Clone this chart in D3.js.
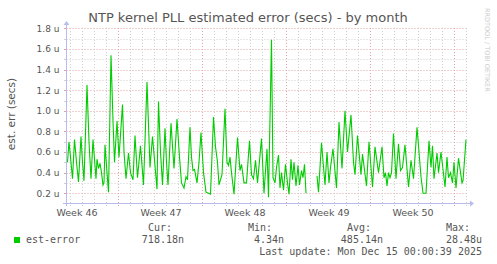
<!DOCTYPE html>
<html>
<head>
<meta charset="utf-8">
<script src="https://cdn.jsdelivr.net/npm/d3@7"></script>
<style>
  body { margin: 0; background: #fff; }
  text { font-family: "DejaVu Sans", sans-serif; }
  .mono { font-family: "DejaVu Sans Mono", monospace; }
</style>
</head>
<body>
<script>
// hours after the start of the graph window, and est. error in microseconds
const hours = [2, 5, 8, 12, 16, 20, 24, 29, 32, 35, 41, 45, 49, 53, 59, 61, 64, 67, 70, 73,
  75, 77, 81, 84, 89, 93, 96, 101, 105, 112, 115, 119, 124, 128, 133, 137, 142, 148, 154, 161,
  167, 172, 181, 184, 188, 192, 197, 200, 203, 209, 215, 221, 226, 230, 235, 239, 242, 247, 250, 253,
  256, 261, 265, 269, 274, 279, 284, 288, 294, 298, 302, 305, 311, 317, 321, 324, 327, 330, 335, 342,
  347, 350, 355, 360, 366, 370, 374, 378, 382, 390, 395, 401, 404, 410, 413, 417, 420, 424, 427, 430,
  434, 438, 442, 445, 449, 452, 455, 459, 463, 466, 470, 473, 476, 479, 488, 501, 504, 510, 517, 521,
  525, 528, 533, 540, 545, 551, 557, 562, 569, 574, 577, 582, 589, 592, 600, 605, 612, 617, 624, 631,
  635, 638, 641, 644, 647, 650, 654, 659, 664, 668, 672, 677, 684, 689, 694, 701, 709, 713, 719, 725,
  729, 732, 735, 741, 744, 749, 757, 761, 764, 768, 772, 775, 779, 784, 791, 793, 799];
const estError = [0.50, 0.70, 0.55, 0.34, 0.72, 0.50, 0.31, 0.75, 0.50, 0.32, 1.25, 0.70, 0.34, 0.72, 0.34, 0.53, 0.44, 0.49, 0.40, 0.28,
  0.30, 0.67, 0.40, 0.21, 1.54, 0.90, 0.50, 0.90, 0.55, 1.06, 0.60, 0.34, 0.59, 0.40, 0.33, 0.76, 0.35, 0.66, 0.28, 1.28,
  0.45, 0.75, 0.24, 1.09, 0.60, 0.28, 0.83, 0.50, 0.28, 0.88, 0.44, 0.92, 0.55, 0.30, 0.25, 0.36, 0.33, 0.84, 0.55, 0.42,
  0.43, 0.30, 0.50, 0.79, 0.40, 0.21, 0.20, 0.19, 0.94, 0.65, 0.50, 0.28, 0.38, 1.02, 0.50, 0.47, 0.55, 0.40, 0.19, 0.74,
  0.42, 0.48, 0.30, 0.30, 0.71, 0.38, 0.34, 0.52, 0.30, 0.73, 0.20, 0.63, 0.16, 1.69, 0.35, 0.30, 0.45, 0.57, 0.25, 0.40,
  0.23, 0.48, 0.30, 0.19, 0.53, 0.33, 0.50, 0.27, 0.47, 0.28, 0.42, 0.35, 0.48, 0.20, null, 0.37, 0.21, 0.69, 0.28, 0.60,
  0.30, 0.45, 0.63, 0.25, 0.89, 0.44, 1.00, 0.60, 0.96, 0.50, 0.38, 0.76, 0.38, 0.58, 0.27, 0.70, 0.26, 0.65, 0.40, 0.65,
  0.35, 0.40, 0.27, 0.40, 0.35, 0.40, 0.78, 0.34, 0.68, 0.42, 0.45, 0.67, 0.26, 0.52, 0.34, 0.84, 0.36, 0.20, 0.20, 0.71,
  0.45, 0.66, 0.34, 0.59, 0.40, 0.60, 0.26, 0.55, 0.35, 0.40, 0.30, 0.50, 0.25, 0.54, 0.30, 0.32, 0.72];
const yTicks = [0.2, 0.4, 0.6, 0.8, 1.0, 1.2, 1.4, 1.6, 1.8];
const legendHeads = ["Cur:", "Min:", "Avg:", "Max:"];
const legendVals = ["718.18n", "4.34n", "485.14n", "28.48u"];

const W = 497, H = 264;
const end = new Date(Date.UTC(2025, 11, 15, 0, 0, 39));
const start = new Date(+end - 800 * 3600e3);
const data = hours.map((h, i) => ({ t: new Date(+start + h * 3600e3), v: estError[i] }));

const svg = d3.select("body").append("svg").attr("width", W).attr("height", H);

const x = d3.scaleUtc().domain([start, end]).range([66.5, 466.5]);
const y = d3.scaleLinear().domain([0.1, 1.8]).range([203.5, 28.4]);

const minorCol = "#cfcfcf", majorCol = "#e3a0a0";

// grid
const minorY = d3.range(2, 19).map((d) => d / 10);
svg.append("g").selectAll("line").data(minorY).enter().append("line")
  .attr("x1", 66.5).attr("x2", 466.5)
  .attr("y1", (d) => Math.round(y(d)) + 0.5).attr("y2", (d) => Math.round(y(d)) + 0.5)
  .attr("stroke", (d) => (Math.round(d * 10) % 2 === 0 ? majorCol : minorCol))
  .attr("stroke-dasharray", "1,2");

const days = d3.utcDay.range(start, end);
svg.append("g").selectAll("line").data(days).enter().append("line")
  .attr("x1", (d) => Math.round(x(d)) + 0.5).attr("x2", (d) => Math.round(x(d)) + 0.5)
  .attr("y1", 28).attr("y2", 206)
  .attr("stroke", (d) => (d.getUTCDay() === 0 ? majorCol : minorCol))
  .attr("stroke-dasharray", "1,2");

// y tick stubs
svg.append("g").selectAll("line").data(minorY).enter().append("line")
  .attr("x1", 64).attr("x2", 66.5)
  .attr("y1", (d) => Math.round(y(d)) + 0.5).attr("y2", (d) => Math.round(y(d)) + 0.5)
  .attr("stroke", (d) => (Math.round(d * 10) % 2 === 0 ? majorCol : minorCol));

// axes lines with arrows
const axisCol = "#b8bcec";
svg.append("line").attr("x1", 63).attr("x2", 470).attr("y1", 203.5).attr("y2", 203.5).attr("stroke", axisCol);
svg.append("line").attr("x1", 66.5).attr("x2", 66.5).attr("y1", 206).attr("y2", 24).attr("stroke", axisCol);
svg.append("path").attr("d", "M470,200.5L474,203.5L470,206.5Z").attr("fill", axisCol);
svg.append("path").attr("d", "M63.5,25L66.5,21L69.5,25Z").attr("fill", axisCol);

// y labels
const yAxis = d3.axisLeft(y).tickValues(yTicks).tickSize(0).tickPadding(7)
  .tickFormat((d) => d3.format(".1f")(d) + " u");
svg.append("g").attr("transform", "translate(66.5,0)").call(yAxis)
  .call((g) => g.select(".domain").remove())
  .selectAll("text").attr("font-size", 9).attr("fill", "#555").attr("font-family", "DejaVu Sans");

// week labels centred in each week
const weekMid = d3.utcSunday.range(d3.utcSunday.offset(start, -1), end)
  .map((d) => new Date(+d + 3.5 * 864e5))
  .filter((d) => d > start && d < end);
const xAxis = d3.axisBottom(x).tickValues(weekMid).tickSize(0).tickPadding(4)
  .tickFormat((d) => "Week " + d3.utcFormat("%V")(d));
svg.append("g").attr("transform", "translate(0,205)").call(xAxis)
  .call((g) => g.select(".domain").remove())
  .selectAll("text").attr("font-size", 9.5).attr("fill", "#555").attr("font-family", "DejaVu Sans");

// the series
const line = d3.line().defined((d) => d.v != null).x((d) => x(d.t)).y((d) => y(d.v));
svg.append("path").datum(data).attr("fill", "none").attr("stroke", "#00cc00")
  .attr("stroke-width", 1.1).attr("d", line);

// titles
svg.append("text").attr("x", 248).attr("y", 22).attr("text-anchor", "middle")
  .attr("font-size", 13).attr("fill", "#555")
  .text("NTP kernel PLL estimated error (secs) - by month");
svg.append("text").attr("transform", "translate(15,114) rotate(-90)").attr("text-anchor", "middle")
  .attr("font-size", 10.5).attr("fill", "#555").text("est. err (secs)");
svg.append("text").attr("transform", "translate(485,8) rotate(90)")
  .attr("font-size", 6.5).attr("fill", "#ccc").text("RRDTOOL / TOBI OETIKER");

// legend
svg.append("rect").attr("x", 14).attr("y", 237).attr("width", 6).attr("height", 6).attr("fill", "#00cc00");
svg.append("text").attr("class", "mono").attr("x", 26).attr("y", 243)
  .attr("font-size", 10).attr("fill", "#555").text("est-error");
const headX = [172, 272, 371, 470];
const valX = [184, 284, 383, 482];
svg.append("g").selectAll("text").data(legendHeads).enter().append("text")
  .attr("class", "mono").attr("x", (d, i) => headX[i]).attr("y", 231).attr("text-anchor", "end")
  .attr("font-size", 10).attr("fill", "#555").text((d) => d);
svg.append("g").selectAll("text").data(legendVals).enter().append("text")
  .attr("class", "mono").attr("x", (d, i) => valX[i]).attr("y", 243).attr("text-anchor", "end")
  .attr("font-size", 10).attr("fill", "#555").text((d) => d);
svg.append("text").attr("class", "mono").attr("x", 482).attr("y", 255).attr("text-anchor", "end")
  .attr("font-size", 10).attr("fill", "#555").text("Last update: Mon Dec 15 00:00:39 2025");
</script>
</body>
</html>
